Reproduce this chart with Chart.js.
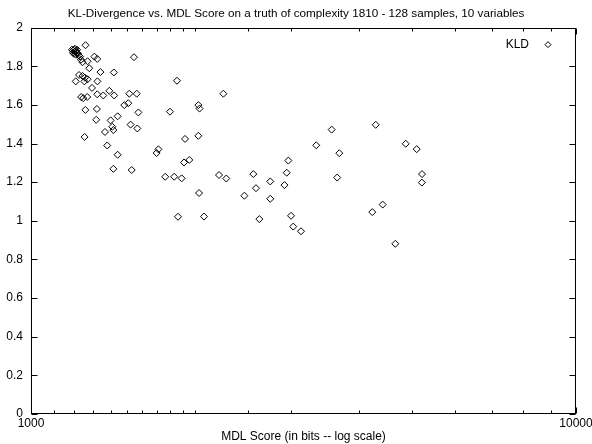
<!DOCTYPE html>
<html>
<head>
<meta charset="utf-8">
<script src="https://cdn.jsdelivr.net/npm/chart.js@4/dist/chart.umd.min.js"></script>
<style>
  html, body { margin: 0; padding: 0; background: #fff; }
  #wrap { width: 592px; height: 444px; }
</style>
</head>
<body>
<div id="wrap"><canvas id="chart"></canvas></div>
<script>
// MDL score (bits) of each sample -- first row is the tight cluster top-left
const mdlScore = [
    1189, 1194, 1199, 1204, 1209, 1215, 1199, 1209, 1220, 1225, 1194, 1215, 1204, 1230,
    1259, 1235, 1243, 1270, 1307, 1323, 1545, 1279, 1341, 1419,
    1225, 1243, 1256, 1270, 1208, 1253, 1324, 1853, 1294, 1392,
    1323, 1357, 1421, 1515, 1563, 1236, 1247, 1268, 1483, 1508,
    1258, 1321, 1574, 1442, 1400, 1317, 1523, 1567, 1410, 1416,
    1367, 1254, 1380, 1442, 1416, 1530, 1799, 2028, 2038, 2254,
    1917, 2028, 1700, 1713, 1909, 1952, 1763, 1831, 1890, 2034,
    1861, 2077, 2213, 2282, 2558, 2587, 2463, 2748, 2748, 2624,
    2918, 2946, 2966, 3000, 3028, 3129, 3337, 3562, 3679, 3646,
    4291, 4870, 5102, 5218, 5213, 4419, 4229, 4661
];
// KL divergence for the same samples
const kld = [
    1.886, 1.881, 1.886, 1.876, 1.881, 1.870, 1.865, 1.860, 1.865, 1.855, 1.870, 1.886, 1.891, 1.850,
    1.909, 1.834, 1.821, 1.826, 1.850, 1.838, 1.847, 1.790, 1.770, 1.768,
    1.755, 1.750, 1.741, 1.733, 1.722, 1.722, 1.722, 1.725, 1.688, 1.673,
    1.655, 1.649, 1.649, 1.658, 1.658, 1.641, 1.635, 1.641, 1.599, 1.609,
    1.574, 1.579, 1.561, 1.541, 1.520, 1.523, 1.498, 1.478, 1.487, 1.470,
    1.460, 1.434, 1.390, 1.342, 1.269, 1.263, 1.565, 1.599, 1.581, 1.658,
    1.424, 1.440, 1.351, 1.370, 1.302, 1.315, 1.228, 1.228, 1.220, 1.144,
    1.021, 1.022, 1.237, 1.219, 1.242, 1.169, 1.130, 1.204, 1.114, 1.009,
    1.185, 1.249, 1.312, 1.026, 0.970, 0.946, 1.391, 1.472, 1.350, 1.224,
    1.497, 1.399, 1.371, 1.242, 1.198, 1.084, 1.045, 0.881
];
const xLabelled = [1000, 10000];   // only the decades get a number
const seriesName = 'KLD';
const chartTitle = 'KL-Divergence vs. MDL Score on a truth of complexity 1810 - 128 samples, 10 variables';
const xTitle = 'MDL Score (in bits -- log scale)';

const FONT = '"Liberation Sans", Arial, Helvetica, sans-serif';
Chart.defaults.color = '#000';
Chart.defaults.font.family = FONT;
Chart.defaults.font.size = 12;

// gnuplot style frame: border + inward ticks on all four sides, key inside top right
const gnuplotFrame = {
    id: 'gnuplotFrame',
    afterDraw(chart) {
        const { ctx, chartArea: a, scales } = chart;
        const L = Math.round(a.left) + 0.5, R = Math.round(a.right) - 0.5;
        const T = Math.round(a.top) + 0.5, B = Math.round(a.bottom) - 0.5;
        ctx.save();
        ctx.strokeStyle = '#000';
        ctx.lineWidth = 1;
        ctx.strokeRect(L, T, R - L, B - T);

        ctx.beginPath();
        scales.x.ticks.forEach(t => {
            const px = Math.round(scales.x.getPixelForValue(t.value)) + 0.5;
            const len = xLabelled.includes(t.value) ? 6 : 3;
            ctx.moveTo(px, B); ctx.lineTo(px, B - len);
            ctx.moveTo(px, T); ctx.lineTo(px, T + len);
        });
        scales.y.ticks.forEach(t => {
            const py = Math.round(scales.y.getPixelForValue(t.value)) + 0.5;
            ctx.moveTo(L, py); ctx.lineTo(L + 6, py);
            ctx.moveTo(R, py); ctx.lineTo(R - 6, py);
        });
        ctx.stroke();

        // key
        const ky = a.top + 17;
        ctx.font = '12px ' + FONT;
        ctx.fillStyle = '#000';
        ctx.textAlign = 'right';
        ctx.textBaseline = 'middle';
        ctx.fillText(seriesName, a.right - 47, ky);
        const kx = a.right - 28, r = 3;
        ctx.beginPath();
        ctx.moveTo(kx, ky - r); ctx.lineTo(kx + r, ky);
        ctx.lineTo(kx, ky + r); ctx.lineTo(kx - r, ky);
        ctx.closePath();
        ctx.stroke();
        ctx.restore();
    }
};

const points = mdlScore.map((x, i) => ({ x: x, y: kld[i] }));

new Chart(document.getElementById('chart'), {
    type: 'scatter',
    data: {
        datasets: [{
            label: seriesName,
            data: points,
            pointStyle: 'rectRot',
            pointRadius: 3.5,
            pointHoverRadius: 3.5,
            borderColor: '#000',
            borderWidth: 1,
            backgroundColor: 'rgba(0,0,0,0)'
        }]
    },
    options: {
        responsive: true,
        maintainAspectRatio: false,
        animation: false,
        layout: { padding: 0 },
        plugins: {
            legend: { display: false },
            tooltip: { enabled: false },
            title: {
                display: true,
                text: chartTitle,
                font: { size: 11.7, weight: 'normal' },
                padding: { top: 7, bottom: 6.6 }
            }
        },
        scales: {
            x: {
                type: 'logarithmic',
                min: 1000,
                max: 10000,
                grid: { display: false, drawTicks: false },
                border: { display: false },
                ticks: {
                    autoSkip: false,
                    maxRotation: 0,
                    padding: 2,
                    callback: v => xLabelled.includes(v) ? String(v) : ''
                },
                title: { display: true, text: xTitle, padding: 0 },
                afterFit: s => {
                    s.height = 30;
                    s.paddingLeft = 0;
                    s.paddingRight = 16;   // let "10000" run off the edge like the original
                }
            },
            y: {
                min: 0,
                max: 2,
                grid: { display: false, drawTicks: false },
                border: { display: false },
                ticks: {
                    stepSize: 0.2,
                    padding: 8,
                    callback: v => String(+v.toFixed(1))
                },
                afterFit: s => { s.width = 31; }
            }
        }
    },
    plugins: [gnuplotFrame]
});
</script>
</body>
</html>
